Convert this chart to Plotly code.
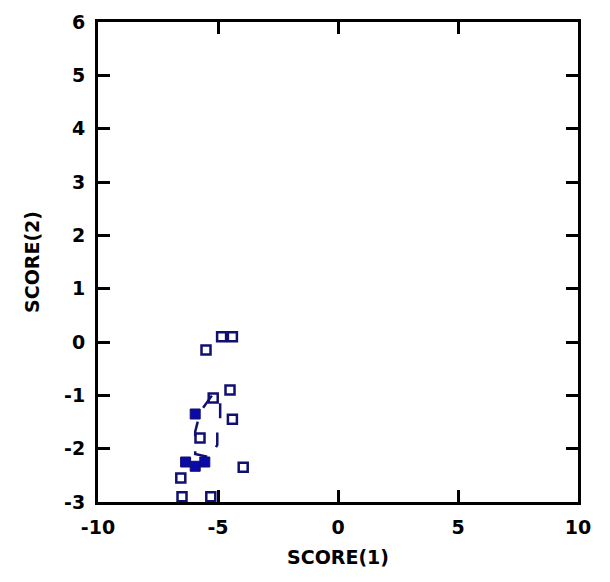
import plotly.graph_objects as go

# open-square observations
open_x = [-4.85, -4.4, -5.5, -4.5, -5.2, -4.4, -5.75, -3.95, -6.55, -6.5, -5.3]
open_y = [0.1, 0.1, -0.15, -0.9, -1.05, -1.45, -1.8, -2.35, -2.55, -2.9, -2.9]
# filled-square observations
fill_x = [-5.95, -6.35, -5.95, -5.55]
fill_y = [-1.35, -2.25, -2.33, -2.25]
# dashed outline around the cluster
path_x = [-5.45, -5.95, -5.95, -5.74, -5.2, -4.91, -4.91, -5.03, -5.03, -5.2, -5.45]
path_y = [-2.15, -2.1, -1.68, -1.31, -0.97, -1.09, -1.51, -1.6, -1.93, -2.06, -2.15]

x_ticks = [-10, -5, 0, 5, 10]
y_ticks = [-3, -2, -1, 0, 1, 2, 3, 4, 5, 6]

fig = go.Figure()
fig.add_trace(go.Scatter(x=path_x, y=path_y, mode="lines",
                         line=dict(color="#10106e", width=2.5, dash="longdash"),
                         showlegend=False, hoverinfo="skip"))
fig.add_trace(go.Scatter(x=fill_x, y=fill_y, mode="markers",
                         marker=dict(symbol="square", size=10, color="#0a0aa8",
                                     line=dict(color="#10106e", width=1)),
                         showlegend=False))
fig.add_trace(go.Scatter(x=open_x, y=open_y, mode="markers",
                         marker=dict(symbol="square-open", size=9, color="#10106e",
                                     line=dict(width=2.5)),
                         showlegend=False))

font = dict(family="DejaVu Sans", size=19, color="black", weight="bold")
axis_common = dict(showgrid=False, zeroline=False, showline=True, linecolor="black",
                   linewidth=3, mirror="allticks", ticks="inside", ticklen=12,
                   tickwidth=3, tickcolor="black", tickfont=font)

fig.update_xaxes(range=[-10, 10], tickvals=x_ticks, ticktext=[str(v) for v in x_ticks],
                 ticklabelstandoff=6,
                 title=dict(text="SCORE(1)", font=font, standoff=14), **axis_common)
fig.update_yaxes(range=[-3, 6], tickvals=y_ticks, ticktext=[str(v) for v in y_ticks],
                 ticklabelstandoff=6,
                 title=dict(text="SCORE(2)", font=font, standoff=20), **axis_common)

fig.update_layout(width=610, height=582, margin=dict(l=98, r=32, t=22, b=80),
                  plot_bgcolor="white", paper_bgcolor="white")
fig.write_html("out.html")
